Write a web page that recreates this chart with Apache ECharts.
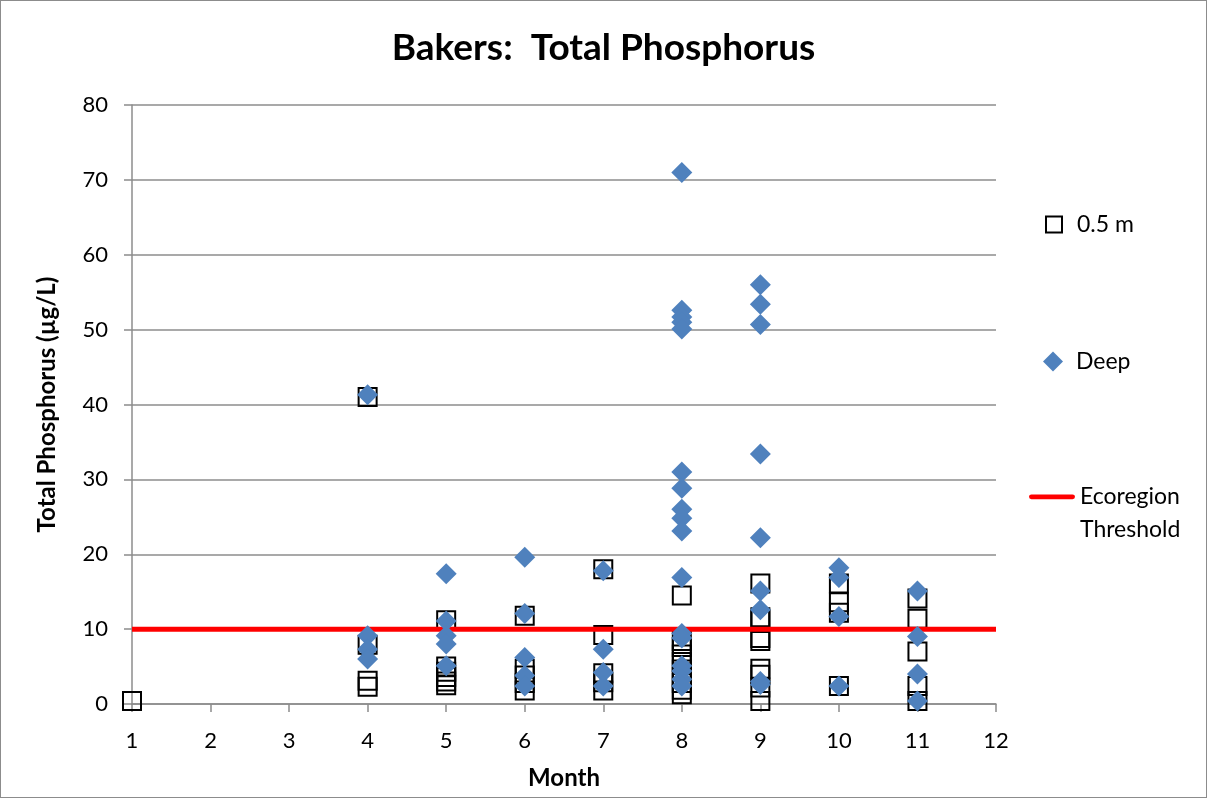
<!DOCTYPE html>
<html>
<head>
<meta charset="utf-8">
<script src="https://cdn.jsdelivr.net/npm/echarts@6/dist/echarts.min.js"></script>
<style>
  html, body { margin: 0; padding: 0; background: #fff; }
  #chart { width: 1205px; height: 796px; border: 1px solid #8c8c8c; }
</style>
</head>
<body>
<div id="chart"></div>
<script>
// 0.5 m samples (month, µg/L)
const shallowMonth = [1, 4, 4, 4, 4, 5, 5, 5, 5, 5, 5, 6, 6, 6, 6, 6, 7, 7, 7, 7, 7,
  8, 8, 8, 8, 8, 8, 8, 8, 8, 8, 9, 9, 9, 9, 9, 9, 9, 9, 9,
  10, 10, 10, 10, 11, 11, 11, 11, 11];
const shallowTP = [0.4, 41.0, 7.9, 3.1, 2.3, 11.2, 5.0, 4.3, 3.6, 3.0, 2.5, 11.8, 4.7, 3.8, 2.8, 1.8, 18.0, 9.2, 4.1, 2.9, 1.8,
  14.5, 8.4, 7.6, 6.6, 5.6, 4.6, 3.6, 2.8, 1.9, 1.3, 16.1, 11.6, 11.3, 8.8, 8.4, 4.7, 3.9, 2.2, 0.4,
  16.1, 13.6, 12.2, 2.4, 14.1, 11.4, 7.0, 2.4, 0.4];

// Deep samples
const deepMonth = [4, 4, 4, 4, 5, 5, 5, 5, 5, 6, 6, 6, 6, 6, 7, 7, 7, 7,
  8, 8, 8, 8, 8, 8, 8, 8, 8, 8, 8, 8, 8, 8, 8, 8, 8,
  9, 9, 9, 9, 9, 9, 9, 9, 9, 10, 10, 10, 10, 11, 11, 11, 11];
const deepTP = [41.3, 9.1, 7.3, 6.0, 17.4, 11.1, 9.1, 8.0, 5.1, 19.6, 12.1, 6.2, 3.8, 2.4, 17.8, 7.3, 4.2, 2.4,
  71.0, 52.6, 51.7, 51.0, 50.1, 31.0, 28.8, 26.0, 24.8, 23.1, 16.9, 9.4, 8.8, 5.1, 4.4, 3.3, 2.4,
  56.0, 53.4, 50.7, 33.4, 22.2, 15.1, 12.6, 3.0, 2.6, 18.2, 16.9, 11.7, 2.4, 15.1, 9.0, 4.0, 0.4];

// Ecoregion threshold
const thresholdMonth = [1, 12];
const thresholdTP = [10, 10];

const zip = (xs, ys) => xs.map((x, i) => [x, ys[i]]);

const myChart = echarts.init(document.getElementById('chart'));
const font = 'Lato, "Open Sans", sans-serif';

// red bar at the top of a taller box so it lines up with the first text line
const thresholdIcon = 'path://M2,0L44,0A2.5,2.5,0,0,1,44,5L2,5A2.5,2.5,0,0,1,2,0Z M0,38L0.01,38L0.01,38.01Z';

const option = {
  animation: false,
  textStyle: { fontFamily: font },
  title: {
    text: 'Bakers:  Total Phosphorus',
    left: 'center',
    top: 24,
    textStyle: { fontFamily: font, fontSize: 37, fontWeight: 'bold', color: '#000' }
  },
  legend: [
    {
      data: ['0.5 m'], orient: 'vertical', left: 1039, top: 207,
      itemWidth: 16, itemHeight: 16,
      textStyle: { fontSize: 23, color: '#000', padding: [0, 0, 0, 10] }
    },
    {
      data: ['Deep'], orient: 'vertical', left: 1037, top: 344,
      itemWidth: 20, itemHeight: 20,
      textStyle: { fontSize: 23, color: '#000', padding: [0, 0, 0, 8] }
    },
    {
      data: [{ name: 'Ecoregion\nThreshold', icon: thresholdIcon }],
      orient: 'vertical', left: 1023, top: 474,
      itemWidth: 46, itemHeight: 38,
      textStyle: { fontSize: 23, color: '#000', lineHeight: 33 }
    }
  ],
  grid: { left: 131, right: 210, top: 104, bottom: 93 },
  xAxis: {
    type: 'value',
    min: 1, max: 12, interval: 1,
    name: 'Month',
    nameLocation: 'middle',
    nameGap: 62,
    nameTextStyle: { fontSize: 24, fontWeight: 'bold', color: '#000' },
    axisLine: { show: true, lineStyle: { color: '#8c8c8c', width: 1.5 } },
    axisTick: { show: true, length: 8, lineStyle: { color: '#8c8c8c', width: 1.5 } },
    axisLabel: { fontSize: 22, color: '#000', margin: 26 },
    splitLine: { show: false }
  },
  yAxis: {
    type: 'value',
    min: 0, max: 80, interval: 10,
    name: 'Total Phosphorus (µg/L)',
    nameLocation: 'middle',
    nameGap: 73,
    nameTextStyle: { fontSize: 24, fontWeight: 'bold', color: '#000' },
    axisLine: { show: true, lineStyle: { color: '#8c8c8c', width: 1.5 } },
    axisTick: { show: true, length: 8, lineStyle: { color: '#8c8c8c', width: 1.5 } },
    axisLabel: { fontSize: 22, color: '#000', margin: 24 },
    splitLine: { show: true, lineStyle: { color: '#8c8c8c', width: 1.5 } }
  },
  series: [
    {
      name: '0.5 m',
      type: 'scatter',
      symbol: 'rect',
      symbolSize: 18,
      z: 2,
      itemStyle: { color: 'rgba(255,255,255,0)', borderColor: '#000', borderWidth: 2, opacity: 1 },
      data: zip(shallowMonth, shallowTP)
    },
    {
      name: 'Ecoregion\nThreshold',
      type: 'line',
      symbol: 'none',
      z: 3,
      lineStyle: { color: '#ff0000', width: 5 },
      itemStyle: { color: '#ff0000' },
      data: zip(thresholdMonth, thresholdTP)
    },
    {
      name: 'Deep',
      type: 'scatter',
      symbol: 'diamond',
      symbolSize: 21,
      z: 4,
      itemStyle: { color: '#4f81bd', opacity: 1 },
      data: zip(deepMonth, deepTP)
    }
  ]
};

myChart.setOption(option);
window.addEventListener('resize', () => myChart.resize());
</script>
</body>
</html>
